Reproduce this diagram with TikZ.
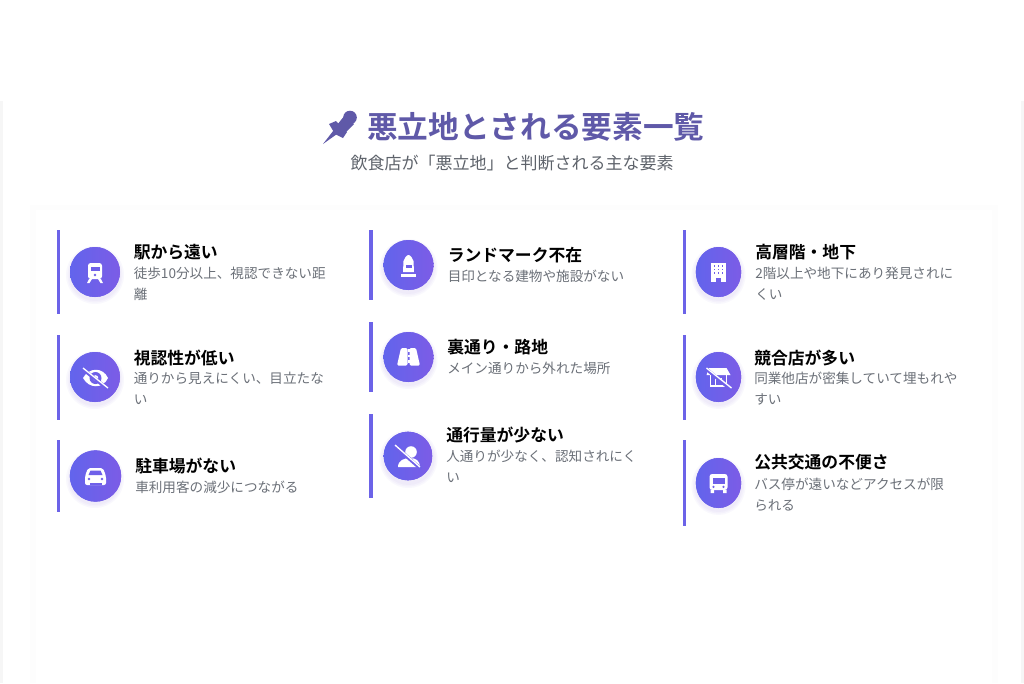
\documentclass[tikz,border=0pt]{standalone}
\usepackage{fontspec}
\setmainfont{Noto Sans CJK JP}
\newfontfamily\boldjp{Noto Sans CJK JP Bold}
\usetikzlibrary{shapes.geometric}
\definecolor{barblue}{HTML}{6C63E8}
\definecolor{iconleft}{HTML}{6264EC}
\definecolor{iconright}{HTML}{7C5CE6}
\definecolor{iconmid}{HTML}{6F60E9}
\definecolor{halo}{HTML}{7A5CE0}
\definecolor{titleblue}{HTML}{5F59A8}
\definecolor{subgrey}{HTML}{5E636B}
\definecolor{descgrey}{HTML}{6B7078}
\definecolor{panelgrey}{HTML}{FDFDFD}
\definecolor{edgegrey}{HTML}{F6F6F6}
\tikzset{
  bar/.style={draw=none,fill=barblue,minimum width=2.4pt,inner sep=0pt},
  iconshade/.style={path picture={\shade[left color=iconleft,right color=iconright] (path picture bounding box.south west) rectangle (path picture bounding box.north east);}},
  iconcirc/.style={circle,draw=none,inner sep=0pt,minimum size=37.5pt,fill=iconmid,iconshade},
  iconoval/.style={ellipse,draw=none,inner sep=0pt,minimum width=34pt,minimum height=37.5pt,fill=iconmid,iconshade},
  headtxt/.style={anchor=west,inner sep=0pt,font=\boldjp\fontsize{12.6pt}{14pt}\selectfont,text=black},
  desctxt/.style={anchor=north west,inner sep=0pt,font=\fontsize{10.2pt}{15.8pt}\selectfont,text=descgrey,align=left},
  glyph/.style={fill=white,draw=none},
  softhalo/.style={fill=halo,opacity=0.04}
}
\begin{document}
\begin{tikzpicture}[x=0.75pt,y=-0.75pt]
\useasboundingbox (0,0) rectangle (1024,683);
% page panels
\fill[edgegrey] (0,101) rectangle (1024,683);
\fill[white] (3,101) rectangle (1021,683);
\fill[panelgrey] (30,205) rectangle (998,683);
\fill[white] (36,210) rectangle (992,683);

% heading
\node[inner sep=0pt,anchor=west,font=\boldjp\fontsize{23pt}{26pt}\selectfont,text=titleblue] (title) at (367,127) {悪立地とされる要素一覧};
\node[inner sep=0pt,font=\fontsize{12.75pt}{15pt}\selectfont,text=subgrey] (subtitle) at (512,163.5) {飲食店が「悪立地」と判断される主な要素};
% pin
\fill[titleblue] (323,144) -- (333.5,130.5) -- (337,134) -- cycle;
\fill[titleblue] (329,124) -- (336,121) -- (347,132) -- (343,138) -- (335,134) -- cycle;
\fill[titleblue] (337,125) -- (345,115) -- (354,124) -- (345,133) -- cycle;
\fill[titleblue] (350,117.5) circle[radius=6.8];

% left column
\node[bar,minimum height=63.5pt] (bar1) at (58.5,272) {};
\node[bar,minimum height=63.5pt] (bar2) at (58.5,377.5) {};
\node[bar,minimum height=54pt] (bar3) at (58.5,476) {};
\foreach \cy in {272,377,476} \foreach \rr in {26,27.5,29} \fill[softhalo] (95,\cy+3) circle[radius=\rr];
\node[iconcirc] (ic1) at (95,272) {};
\node[iconcirc] (ic2) at (95,377) {};
\node[iconcirc,minimum size=38.5pt] (ic3) at (95.5,476) {};
\node[headtxt] (h1) at (133.5,252.5) {駅から遠い};
\node[desctxt] (d1) at (133.5,266.5) {徒歩10分以上、視認できない距\\離};
\node[headtxt] (h2) at (133.5,357.5) {視認性が低い};
\node[desctxt] (d2) at (133.5,372) {通りから見えにくい、目立たな\\い};
\node[headtxt] (h3) at (135,466) {駐車場がない};
\node[desctxt] (d3) at (135,480.5) {車利用客の減少につながる};

% middle column
\node[bar,minimum height=53pt] (bar4) at (371,265) {};
\node[bar,minimum height=53pt] (bar5) at (371,357) {};
\node[bar,minimum height=63.5pt] (bar6) at (371,456) {};
\foreach \cy in {265,357,456} \foreach \rr in {26,27.5,29} \fill[softhalo] (408.5,\cy+3) circle[radius=\rr];
\node[iconcirc] (ic4) at (408.5,265) {};
\node[iconcirc] (ic5) at (408.5,357) {};
\node[iconcirc,minimum size=36.5pt] (ic6) at (408,456) {};
\node[headtxt] (h4) at (447.5,255.5) {ランドマーク不在};
\node[desctxt] (d4) at (447.5,269.5) {目印となる建物や施設がない};
\node[headtxt] (h5) at (447,347.5) {裏通り・路地};
\node[desctxt] (d5) at (447,361.5) {メイン通りから外れた場所};
\node[headtxt] (h6) at (446,435.5) {通行量が少ない};
\node[desctxt] (d6) at (446,450) {人通りが少なく、認知されにく\\い};

% right column
\node[bar,minimum height=63.5pt] (bar7) at (684.5,272) {};
\node[bar,minimum height=63.5pt] (bar8) at (684.5,377.5) {};
\node[bar,minimum height=64pt] (bar9) at (684.5,483) {};
\foreach \cy in {272,377,483} \foreach \rr in {24,25.5,27} \fill[softhalo] (718.5,\cy+3) ellipse[x radius=\rr,y radius=\rr+2];
\node[iconoval] (ic7) at (718.5,272) {};
\node[iconoval] (ic8) at (718.5,377) {};
\node[iconoval] (ic9) at (718.5,483) {};
\node[headtxt] (h7) at (755,252.5) {高層階・地下};
\node[desctxt] (d7) at (755,266.5) {2階以上や地下にあり発見されに\\くい};
\node[headtxt] (h8) at (754,357.5) {競合店が多い};
\node[desctxt] (d8) at (754,372) {同業他店が密集していて埋もれや\\すい};
\node[headtxt] (h9) at (754,462.5) {公共交通の不便さ};
\node[desctxt] (d9) at (754,478) {バス停が遠いなどアクセスが限\\られる};

% icon glyphs
\begin{scope}[shift={(ic1)}]
\fill[glyph,rounded corners=2pt] (-7,-9) rectangle (7,7);
\fill[iconmid] (-4.5,-5.5) rectangle (4.5,-1);
\fill[iconmid] (0,3) circle[radius=1.3];
\fill[glyph] (-6,7) -- (-3,7) -- (-5.5,11) -- (-8,11) -- cycle (6,7) -- (3,7) -- (5.5,11) -- (8,11) -- cycle;
\end{scope}
\begin{scope}[shift={(ic2)}]
\fill[glyph] (-12,1) .. controls (-6,-10) and (8,-10) .. (13,1) .. controls (8,12) and (-6,12) .. (-12,1) -- cycle;
\fill[iconmid] (0.5,1) circle[radius=6];
\fill[glyph] (0.5,1) circle[radius=2.8];
\draw[iconmid,line width=2.6pt] (-11,-7) -- (14,13);
\draw[white,line width=1pt] (-12,-9) -- (13,11);
\end{scope}
\begin{scope}[shift={(ic3)}]
\fill[glyph,rounded corners=1.5pt] (-10.5,0) -- (-7.5,-8) -- (7.5,-8) -- (10.5,0) -- (10.5,9) -- (-10.5,9) -- cycle;
\fill[iconmid] (-5,-5.5) -- (5,-5.5) -- (7,-1) -- (-7,-1) -- cycle;
\fill[iconmid] (-6.5,3) circle[radius=1.4] (6.5,3) circle[radius=1.4];
\fill[iconmid] (-6,6.5) rectangle (6,9);
\end{scope}
\begin{scope}[shift={(ic4)}]
\fill[glyph] (-5.5,7) -- (-5,-4) .. controls (-4,-7) and (-2,-10) .. (0,-10) .. controls (2,-10) and (4,-7) .. (5,-4) -- (5.5,7) -- cycle;
\fill[glyph] (-7.5,9) rectangle (7.5,11.5);
\fill[iconmid] (-3,0) rectangle (3,2.5);
\end{scope}
\begin{scope}[shift={(ic5)}]
\fill[glyph,rounded corners=1pt] (-7.5,-9) -- (-1,-9) -- (-1,8.5) -- (-11.5,8.5) -- cycle;
\fill[glyph,rounded corners=1pt] (7.5,-9) -- (1,-9) -- (1,8.5) -- (11.5,8.5) -- cycle;
\foreach \ky in {-8,-2.5,3} \fill[glyph] (-1,\ky) rectangle (1,\ky+2.5);
\end{scope}
\begin{scope}[shift={(ic6)}]
\fill[glyph] (3,-4) circle[radius=5.8];
\fill[glyph] (-10,11) .. controls (-10,4) and (-3,2) .. (2,2) .. controls (8,2) and (12,5) .. (12,11) -- cycle;
\draw[iconmid,line width=2.6pt] (-12,-9) -- (13,13);
\draw[white,line width=1pt] (-13,-11) -- (12,11);
\end{scope}
\begin{scope}[shift={(ic7)}]
\fill[glyph] (-7.5,-9) rectangle (7.5,10);
\fill[iconmid] (-2.5,6) rectangle (2.5,10);
\foreach \kx in {-4,0,4} \foreach \ky in {-6,-2.5,1} \fill[iconmid] (\kx-0.9,\ky-0.9) rectangle (\kx+0.9,\ky+0.9);
\end{scope}
\begin{scope}[shift={(ic8)}]
\fill[glyph] (-9.5,-9) -- (8,-9) -- (12,-2) -- (-12,-2) -- cycle;
\draw[white,line width=1.3pt] (-8,-2) -- (-8,9) -- (8,9) -- (8,-2);
\draw[white,line width=1.3pt] (-3,9) -- (-3,2) -- (3,2);
\draw[iconmid,line width=2.6pt] (-11,-7) -- (13,13);
\draw[white,line width=1pt] (-12,-9) -- (13,11);
\end{scope}
\begin{scope}[shift={(ic9)}]
\fill[glyph,rounded corners=2pt] (-9,-9) rectangle (9,7);
\fill[iconmid] (-6,-5.5) rectangle (6,0.5);
\fill[iconmid] (-5,3.8) circle[radius=1.2] (5,3.8) circle[radius=1.2];
\fill[glyph] (-8,7) rectangle (-4.5,10) (4.5,7) rectangle (8,10);
\end{scope}
\end{tikzpicture}
\end{document}
